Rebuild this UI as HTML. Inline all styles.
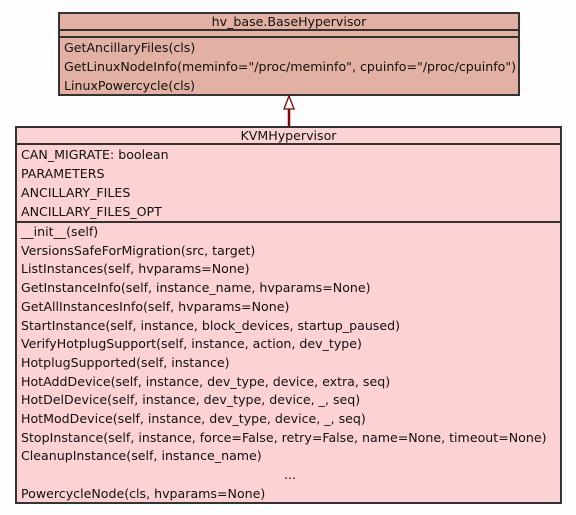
<!DOCTYPE html>
<html><head><style>
body{margin:0;background:#fdfefd;width:576px;height:515px;position:relative;overflow:hidden;font-family:"DejaVu Sans","Liberation Sans",sans-serif;font-size:12.6px;color:#111;}
.b{position:absolute;box-sizing:border-box;border:2px solid #333;}
.t{position:absolute;white-space:nowrap;line-height:15px;}
.h{position:absolute;left:0;right:0;height:0;border-top:2px solid #333;}
</style></head><body>
<div class="b" style="left:58px;top:12px;width:462px;height:84px;background:#e2b1a3;">
 <div class="t" style="left:0;right:0;top:0;text-align:center;">hv_base.BaseHypervisor</div>
 <div class="h" style="top:15px"></div>
 <div class="h" style="top:22px"></div>
 <div class="t" style="left:4px;top:26px;">GetAncillaryFiles(cls)</div>
 <div class="t" style="left:4px;top:45px;">GetLinuxNodeInfo(meminfo="/proc/meminfo", cpuinfo="/proc/cpuinfo")</div>
 <div class="t" style="left:4px;top:64px;">LinuxPowercycle(cls)</div>
</div>
<svg style="position:absolute;left:0;top:0" width="576" height="515">
<line x1="289" y1="109" x2="289" y2="127" stroke="#8b0000" stroke-width="2.5"/>
<polygon points="289,96 284,109 294,109" fill="#fff" stroke="#8b0000" stroke-width="1.3"/>
</svg>
<div class="b" style="left:15px;top:126px;width:547px;height:378px;background:#fcd2d4;">
 <div class="t" style="left:0;right:0;top:0;text-align:center;">KVMHypervisor</div>
 <div class="h" style="top:15px"></div>
 <div class="t" style="left:4px;top:19px;">CAN_MIGRATE: boolean</div>
 <div class="t" style="left:4px;top:38px;">PARAMETERS</div>
 <div class="t" style="left:4px;top:57px;">ANCILLARY_FILES</div>
 <div class="t" style="left:4px;top:76px;">ANCILLARY_FILES_OPT</div>
 <div class="h" style="top:93px"></div>
 <div style="position:absolute;left:4px;top:95px;line-height:18.7px;white-space:nowrap;">
 __init__(self)<br>VersionsSafeForMigration(src, target)<br>ListInstances(self, hvparams=None)<br>GetInstanceInfo(self, instance_name, hvparams=None)<br>GetAllInstancesInfo(self, hvparams=None)<br>StartInstance(self, instance, block_devices, startup_paused)<br>VerifyHotplugSupport(self, instance, action, dev_type)<br>HotplugSupported(self, instance)<br>HotAddDevice(self, instance, dev_type, device, extra, seq)<br>HotDelDevice(self, instance, dev_type, device, _, seq)<br>HotModDevice(self, instance, dev_type, device, _, seq)<br>StopInstance(self, instance, force=False, retry=False, name=None, timeout=None)<br>CleanupInstance(self, instance_name)<br><span style="padding-left:263px">...</span><br>PowercycleNode(cls, hvparams=None)
 </div>
</div>
</body></html>
